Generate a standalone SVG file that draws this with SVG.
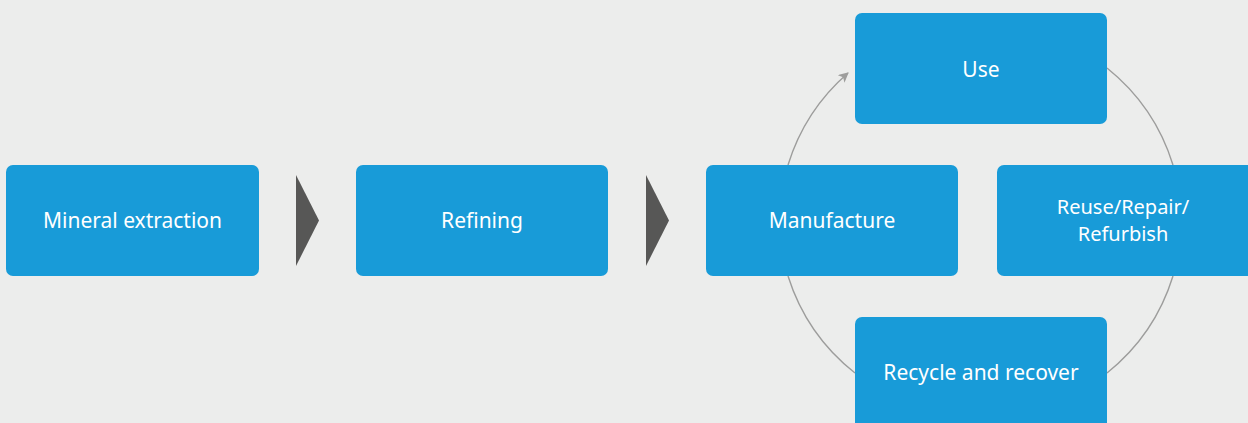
<svg xmlns="http://www.w3.org/2000/svg" width="1248" height="423" viewBox="0 0 1248 423">
<defs>
<style>
.box{fill:#189BD8;}
.lbl{fill:#ffffff;font-family:"Noto Sans","Open Sans",sans-serif;font-size:21px;text-anchor:middle;}
.sm{font-size:20px;}
.chev{fill:#575756;}
.arc{fill:none;stroke:#9d9d9c;stroke-width:1.4;}
</style>
<marker id="ah" viewBox="0 0 10 10" refX="9" refY="5" markerWidth="10" markerHeight="10" markerUnits="userSpaceOnUse" orient="auto">
<path d="M0,0 L10,5 L0,10 L2.5,5 Z" fill="#9d9d9c"/>
</marker>
</defs>
<rect width="1248" height="423" fill="#ECEDEC"/>
<g id="connectors">
<path class="arc" d="M788,165 A200,200 0 0 1 848,73" marker-end="url(#ah)"/>
<path class="arc" d="M1107,68 A200,200 0 0 1 1173,165"/>
<path class="arc" d="M1173,276 A200,200 0 0 1 1107,373"/>
<path class="arc" d="M855,373 A200,200 0 0 1 788,276"/>
<polygon class="chev" points="296,175 319,220.5 296,266"/>
<polygon class="chev" points="646,175 669,220.5 646,266"/>
</g>
<g id="mineral">
<rect class="box" x="6" y="165" width="253" height="111" rx="7"/>
<text class="lbl" x="132.5" y="228">Mineral extraction</text>
</g>
<g id="refining">
<rect class="box" x="356" y="165" width="252" height="111" rx="7"/>
<text class="lbl" x="482" y="228">Refining</text>
</g>
<g id="manufacture">
<rect class="box" x="706" y="165" width="252" height="111" rx="7"/>
<text class="lbl" x="832" y="228">Manufacture</text>
</g>
<g id="use">
<rect class="box" x="855" y="13" width="252" height="111" rx="7"/>
<text class="lbl" x="981" y="77">Use</text>
</g>
<g id="reuse">
<rect class="box" x="997" y="165" width="260" height="111" rx="7"/>
<text class="lbl sm" x="1123" y="214">Reuse/Repair/</text>
<text class="lbl sm" x="1123" y="241">Refurbish</text>
</g>
<g id="recycle">
<rect class="box" x="855" y="317" width="252" height="120" rx="7"/>
<text class="lbl" x="981" y="380">Recycle and recover</text>
</g>
</svg>
